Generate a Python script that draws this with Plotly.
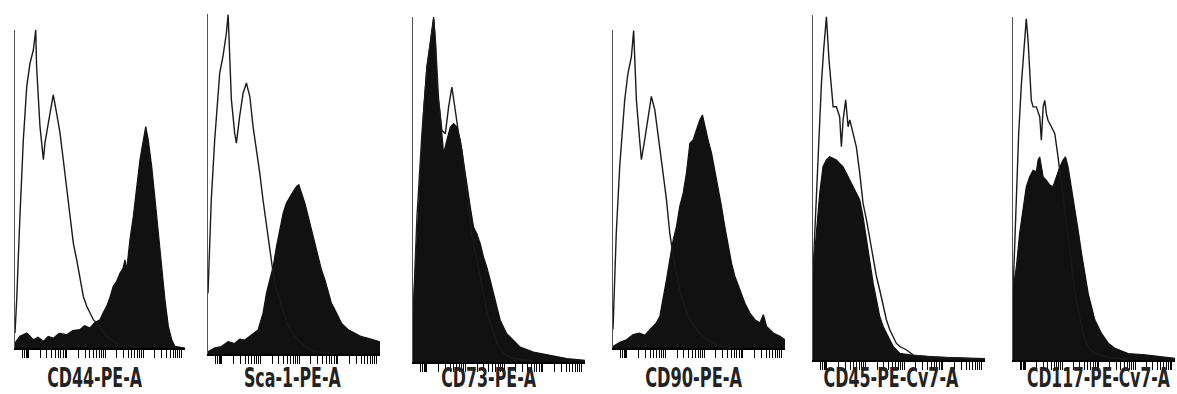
import plotly.graph_objects as go
import math

# ---------------- data (x = relative fluorescence 0-100, y = % of max count) ----
labels = ["CD44-PE-A", "Sca-1-PE-A", "CD73-PE-A", "CD90-PE-A", "CD45-PE-Cv7-A", "CD117-PE-Cv7-A"]

cd44_open_x = [0, 1.0, 2.9, 4.9, 6.9, 8.8, 10.8, 12.2, 12.7, 13.7, 14.7, 16.7, 17.6, 19.6, 22.5, 24.5, 26.5, 28.4,
               30.4, 32.4, 34.3, 36.3, 38.2, 40.2, 42.2, 44.1, 46.1, 48.0, 53.9, 61.8, 73.5]
cd44_open_y = [4.7, 15.2, 41.4, 65.4, 82.2, 89.5, 93.7, 100, 88.5, 78, 69.6, 59.2, 64.4, 70.7, 79.6, 73.8, 67.5, 59.2,
               50.8, 41.4, 33, 27.7, 21.5, 16.2, 13.1, 11, 8.9, 7.9, 3.7, 1, 0.2]
cd44_fill_x = [0, 2.9, 6.9, 10.8, 13.5, 16.7, 19.5, 22.5, 26.0, 30.4, 34.0, 38.2, 41.0, 44.1, 47.0, 50, 52.0, 53.9, 55.8,
               57.8, 59.8, 61.8, 63.5, 64.7, 65.7, 67.6, 69.6, 71.6, 73.5, 75.5, 76.9, 78.4, 80.4, 82.4, 84.3, 86.3,
               88.2, 90.2, 92.2, 94.1, 100]
cd44_fill_y = [1.6, 3.7, 4.7, 2.6, 3.4, 2.1, 3.6, 3.1, 4.6, 4.2, 5.5, 5.8, 7.0, 6.3, 8.0, 8.9, 11.2, 13.1, 15.8,
               19.4, 21.0, 23.6, 25.0, 27.7, 24.6, 34, 41.4, 50.8, 59.2, 65.4, 69.6, 65.4, 57.1, 46.6, 36.1, 25.7,
               15.2, 6.8, 2.6, 0.5, 0]

sca1_open_x = [0, 1.9, 3.9, 6.8, 8.7, 10.7, 11.7, 12.6, 13.6, 15.5, 16.5, 18.4, 20.4, 22.3, 24.3, 26.2, 28.2, 30.1,
               32.0, 34.0, 35.9, 37.9, 39.8, 42.7, 46.6, 50.5, 56.3, 62.1, 73.8]
sca1_open_y = [17.9, 45.3, 63, 82.6, 87.5, 94.4, 99.8, 89.5, 74.8, 65, 62, 69.9, 76.7, 79.7, 75.8, 66.9, 60.1, 53.2,
               45.3, 37.5, 30.6, 23.7, 18.8, 13.9, 8, 5.1, 2.2, 0.7, 0]
sca1_fill_x = [0, 4.0, 7.8, 11.7, 15.5, 18.5, 21.4, 25.2, 29.1, 32.0, 34.0, 35.9, 37.9, 39.8, 41.7, 43.7, 45.6, 47.6,
               49.5, 51.5, 52.8, 54.4, 56.3, 58.3, 60.2, 62.1, 64.1, 66.0, 68.0, 69.9, 71.8, 73.8, 75.7, 77.7, 81.6,
               85.4, 89.3, 93.2, 97.1, 100]
sca1_fill_y = [0.7, 1.8, 2.2, 3.6, 3.1, 4.4, 4.1, 5.6, 7.1, 12, 17.9, 21.8, 25.7, 31.6, 36.5, 41.4, 44.4, 46.3,
               47.8, 49.3, 49.8, 47.3, 44.4, 40.4, 36.5, 32.6, 28.7, 24.7, 21.8, 17.9, 14.9, 13, 11, 9, 7.1,
               6.1, 5.1, 4.6, 4.1, 3.6]

cd73_open_x = [0, 2.3, 5.2, 8.1, 10.1, 12.0, 13.0, 14.9, 16.8, 18.8, 20.7, 22.6, 24.6, 26.5, 28.4, 30.4, 32.3, 34.2,
               37.1, 40.0, 42.9, 45.8, 48.7, 52.6, 58.4, 70.0]
cd73_open_y = [12.1, 42, 66.2, 85.5, 92.3, 99.5, 93.2, 75.8, 67.1, 66.2, 73.9, 79.7, 72.9, 66.2, 61.4, 53.6, 44.9, 37.2,
               29.5, 21.7, 15, 10.1, 5.3, 2.4, 1, 0.3]
cd73_fill_x = [0, 2.3, 4.3, 6.2, 8.1, 10.1, 12.0, 13.0, 13.9, 15.9, 17.8, 19.7, 21.7, 23.6, 25.5, 27.5, 29.4, 31.3,
               33.3, 35.2, 37.1, 39.1, 41.0, 42.9, 44.9, 46.8, 48.7, 50.7, 54.5, 58.4, 62.3, 70.0, 79.7, 89.4, 100]
cd73_fill_y = [14, 37.2, 56.5, 72.9, 85.5, 93.2, 100, 93.2, 80.7, 71, 60.4, 64.3, 68.1, 69.1, 68.1, 64.3, 58.5, 51.7,
               44.9, 39.1, 37.2, 34.3, 30.4, 27.5, 23.7, 19.8, 15.9, 12.1, 8.2, 6.3, 4.3, 2.9, 1.9, 1.0, 0.5]

cd90_open_x = [0, 1.9, 3.9, 6.8, 8.7, 10.7, 12.0, 13.6, 15.5, 16.5, 18.4, 20.4, 22.3, 24.3, 26.2, 29.1, 31.1, 33.0,
               35.0, 36.9, 38.8, 41.7, 44.7, 48.5, 54.4, 62.1, 73.8]
cd90_open_y = [5.8, 36.1, 57.1, 78, 86.4, 91.6, 99.8, 78, 65.4, 59.2, 65.4, 72.8, 79.1, 74.9, 67.5, 55, 46.6, 36.1,
               28.8, 23.6, 18.3, 13.1, 8.9, 5.8, 2.6, 0.5, 0]
cd90_fill_x = [0, 4.0, 7.8, 11.7, 15.5, 18.5, 21.4, 25.2, 27.2, 29.1, 31.1, 33.0, 35.0, 36.9, 38.8, 40.8, 42.7, 44.7,
               46.6, 48.5, 50.5, 52.0, 53.4, 55.3, 57.3, 59.2, 61.2, 63.1, 65.0, 67.0, 68.9, 70.9, 73.8, 76.7, 79.6,
               82.5, 85.4, 87.4, 89.3, 93.2, 97.1, 100]
cd90_fill_y = [0.5, 1.8, 2.6, 4.2, 4.7, 4.0, 5.8, 7.9, 9.9, 15.2, 21.5, 27.7, 34, 38.2, 44.5, 48.7, 55, 64.4,
               65.4, 68.6, 71.7, 73.3, 69.6, 65.4, 61.3, 56, 50.8, 44.5, 38.2, 31.9, 26.7, 22.5, 18.3, 14.1, 11,
               8.9, 7.9, 10.5, 6.8, 4.7, 3.7, 2.6]

cd45_open_x = [0, 1.0, 2.9, 4.9, 6.2, 7.8, 9.3, 10.7, 11.7, 13.6, 15.5, 16.5, 17.5, 19.0, 20.4, 21.4, 23.3, 25.2,
               27.2, 29.1, 31.1, 33.0, 35.0, 36.9, 38.8, 40.8, 42.7, 44.7, 46.6, 48.5, 50.5, 54.4, 58.3, 69.9,
               85.4, 100]
cd45_open_y = [25.1, 36.7, 60.9, 80.2, 89.9, 99.5, 87, 79.2, 73.4, 73.4, 70.5, 61.8, 69.6, 75.4, 67.6, 69.6, 65.7,
               61.8, 54.1, 45.4, 40.6, 34.8, 29, 24.2, 20.3, 15.5, 11.6, 8.7, 6.8, 4.8, 3.9, 2.9, 1.4, 0.8, 0.5, 0.2]
cd45_fill_x = [0, 1.9, 3.9, 5.8, 7.8, 9.7, 11.7, 13.6, 15.5, 17.5, 19.4, 21.4, 23.3, 25.2, 27.2, 29.1, 31.1, 33.0,
               35.0, 36.9, 38.8, 40.8, 42.7, 44.7, 46.6, 50.5, 60.2, 79.6, 100]
cd45_fill_y = [25.1, 36.7, 48.3, 56, 58, 58.9, 58.5, 58, 57, 56, 54.1, 52.2, 50.2, 48.3, 46.4, 41.5, 34.8, 29,
               22.2, 17.4, 12.6, 9.7, 7.7, 5.8, 3.9, 1.9, 1.2, 0.7, 0.4]

cd117_open_x = [0, 1.0, 2.1, 3.5, 5.2, 6.8, 8.2, 9.3, 10.3, 11.3, 12.4, 14.4, 16.5, 17.5, 18.6, 19.6, 20.6, 21.6,
                23.7, 25.8, 27.8, 29.9, 32.0, 34.0, 36.1, 38.1, 40.2, 42.3, 44.3, 46.4, 50.5, 58.8, 71.1]
cd117_open_y = [19.4, 32, 46.6, 66, 80.6, 90.3, 99.5, 93.2, 85.4, 75.7, 73.8, 73.8, 70.9, 64.1, 73.8, 75.7, 71.8,
                69.9, 68, 66, 59.2, 51.5, 43.7, 35, 27.2, 20.4, 14.6, 9.7, 5.8, 3.9, 1.9, 0.8, 0.2]
cd117_fill_x = [0, 2.1, 4.1, 6.2, 8.2, 10.3, 12.4, 14.4, 15.5, 16.5, 18.6, 20.6, 22.7, 24.7, 26.8, 28.9, 30.9, 32.4,
                34.0, 36.1, 38.1, 40.2, 42.3, 44.3, 46.4, 48.5, 50.5, 54.6, 58.8, 62.9, 71.1, 81.4, 91.8, 100]
cd117_fill_y = [20.4, 27.2, 36.9, 44.7, 50.5, 53.4, 55.3, 54.9, 58.3, 59.2, 53.4, 52.4, 51, 50.5, 53.4, 56.3, 58.3,
                59.2, 56.3, 50.5, 44.7, 37.9, 31.1, 25.2, 19.4, 15.5, 11.7, 7.8, 4.9, 3.4, 1.9, 1.5, 1.0, 0.5]

open_x = [cd44_open_x, sca1_open_x, cd73_open_x, cd90_open_x, cd45_open_x, cd117_open_x]
open_y = [cd44_open_y, sca1_open_y, cd73_open_y, cd90_open_y, cd45_open_y, cd117_open_y]
fill_x = [cd44_fill_x, sca1_fill_x, cd73_fill_x, cd90_fill_x, cd45_fill_x, cd117_fill_x]
fill_y = [cd44_fill_y, sca1_fill_y, cd73_fill_y, cd90_fill_y, cd45_fill_y, cd117_fill_y]

# ---------------- layout geometry (pixels of the 1177x394 canvas) ----------------
W, H = 1177, 394
panel_left = [15, 208, 413, 613, 813, 1013]
panel_right = [185, 380, 585, 785, 985, 1175]
panel_top = [30, 14, 17, 30, 15, 17]
panel_bottom = [348, 354, 362, 348, 360, 360]
label_cx = [94, 292, 489, 693, 891, 1098]
label_width = [95, 97, 95, 97, 135, 143]   # target rendered widths of the condensed labels

# log-decade style tick positions (axis decoration only)
decade_start = 8.0
decade_width = 22.5
tickvals = [4.5, 5.5, 6.5, 7.3]
for k in range(4):
    for m in range(1, 10):
        tickvals.append(decade_start + decade_width * (k + math.log10(m)))
tickvals.append(decade_start + decade_width * 4)

fig = go.Figure()
layout = dict(width=W, height=H, margin=dict(l=0, r=0, t=0, b=0),
              paper_bgcolor="white", plot_bgcolor="white", showlegend=False)

for i in range(6):
    n = "" if i == 0 else str(i + 1)
    xa, ya = "x" + n, "y" + n
    fig.add_trace(go.Scatter(x=fill_x[i], y=fill_y[i], mode="lines", fill="tozeroy",
                             fillcolor="#111111", line=dict(color="#111111", width=1.2),
                             xaxis=xa, yaxis=ya, hoverinfo="skip"))
    fig.add_trace(go.Scatter(x=open_x[i], y=open_y[i], mode="lines",
                             line=dict(color="#1a1a1a", width=1.4),
                             xaxis=xa, yaxis=ya, hoverinfo="skip"))
    layout["xaxis" + n] = dict(domain=[panel_left[i] / W, panel_right[i] / W], anchor=ya,
                               range=[0, 100], showgrid=False, zeroline=False,
                               showline=True, linecolor="black", linewidth=2,
                               ticks="outside", ticklen=8, tickwidth=1, tickcolor="black",
                               tickvals=tickvals, showticklabels=False, fixedrange=True)
    layout["yaxis" + n] = dict(domain=[1 - panel_bottom[i] / H, 1 - panel_top[i] / H], anchor=xa,
                               range=[0, 100], showgrid=False, zeroline=False,
                               showline=True, linecolor="#555555", linewidth=1,
                               ticks="", showticklabels=False, fixedrange=True)

fig.update_layout(**layout)

for i in range(6):
    fig.add_annotation(x=label_cx[i] / W, y=0, xref="paper", yref="paper",
                       text="<b>" + labels[i] + "</b>", showarrow=False,
                       xanchor="center", yanchor="bottom", borderpad=0,
                       font=dict(family="DejaVu Sans Condensed, DejaVu Sans, sans-serif",
                                 size=27, color="#222222"))

# condense the label glyphs horizontally (the reference uses a condensed face)
targets_js = "{" + ",".join('"%s":%d' % (l, w) for l, w in zip(labels, label_width)) + "}"
post = """
(function(){
  var targets = %s;
  function condense(){
    document.querySelectorAll('text.annotation-text').forEach(function(t){
      if (t.getAttribute('data-cond')) return;
      var w = targets[t.textContent];
      if (!w) return;
      var b = t.getBBox();
      if (!b.width) return;
      var s = w / b.width;
      var cx = b.x + b.width / 2;
      var prev = t.getAttribute('transform') || '';
      t.setAttribute('transform', prev + ' matrix(' + s + ',0,0,1,' + (cx * (1 - s)) + ',0)');
      t.setAttribute('data-cond', '1');
    });
  }
  document.body.style.margin = '0';
  document.body.style.padding = '0';
  condense();
  setTimeout(condense, 30);
  setTimeout(condense, 250);
})();
""" % targets_js

fig.write_html("out.html", post_script=post, config={"displayModeBar": False})
